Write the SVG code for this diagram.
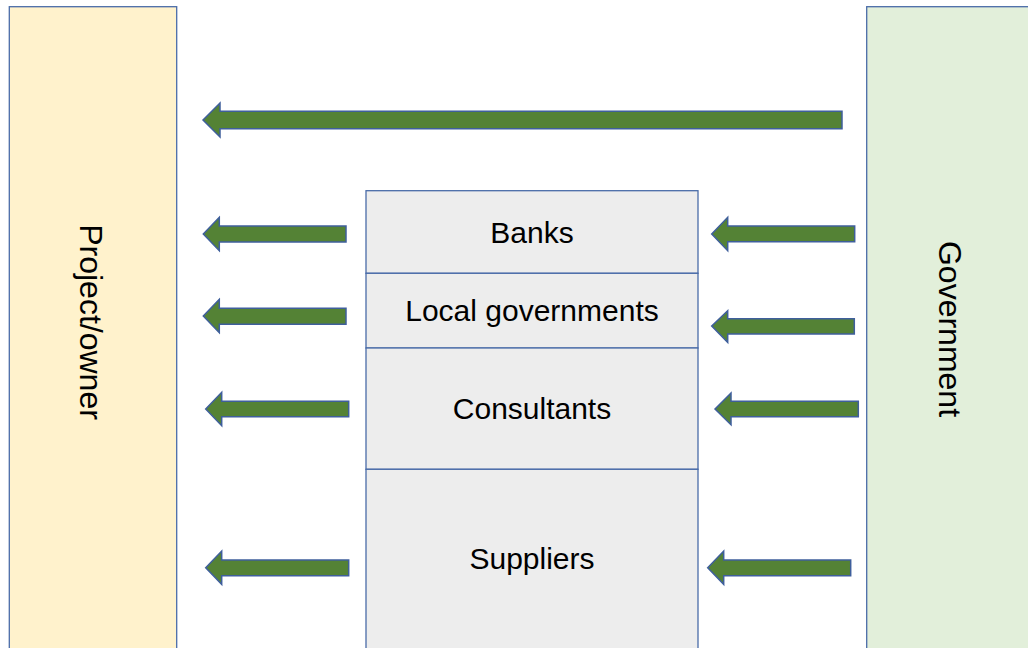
<svg xmlns="http://www.w3.org/2000/svg" width="1028" height="648" viewBox="0 0 1028 648">
  <style>
    .box { stroke: #4A6CA8; stroke-width: 1.3; }
    .owner { fill: #FFF2CC; }
    .gov { fill: #E2EFDA; }
    .cell { fill: #EDEDED; }
    .label { font-family: "Liberation Sans", Arial, sans-serif; font-size: 30px; fill: #000; text-anchor: middle; }
    .vlabel { font-size: 32px; }
    .arrow { fill: #548235; stroke: #3F5F9C; stroke-width: 1.5; stroke-linejoin: miter; }
  </style>
  <rect width="1028" height="648" fill="#FFFFFF"/>

  <g id="project-owner">
    <rect class="box owner" x="9.3" y="6.7" width="167.4" height="660"/>
    <text class="label vlabel" transform="translate(80,322) rotate(90)">Project/owner</text>
  </g>

  <g id="government">
    <rect class="box gov" x="866.7" y="6.7" width="180" height="660"/>
    <text class="label vlabel" transform="translate(939,329) rotate(90)">Government</text>
  </g>

  <g id="banks">
    <rect class="box cell" x="366" y="190.7" width="332" height="82.6"/>
    <text class="label" x="532" y="243.3">Banks</text>
  </g>
  <g id="local-governments">
    <rect class="box cell" x="366" y="273.3" width="332" height="74.7"/>
    <text class="label" x="532" y="320.7">Local governments</text>
  </g>
  <g id="consultants">
    <rect class="box cell" x="366" y="348" width="332" height="121.3"/>
    <text class="label" x="532" y="419.3">Consultants</text>
  </g>
  <g id="suppliers">
    <rect class="box cell" x="366" y="469.3" width="332" height="200"/>
    <text class="label" x="532" y="569.3">Suppliers</text>
  </g>

  <g id="connectors">
    <!-- government to owner, long arrow -->
    <polygon class="arrow" points="203,120 220,103 220,111.3 842,111.3 842,128.7 220,128.7 220,137"/>
    <!-- stakeholders to owner -->
    <polygon class="arrow" points="203.3,234 219.3,217.3 219.3,226 346,226 346,242 219.3,242 219.3,250.7"/>
    <polygon class="arrow" points="203.3,316 219.3,299.3 219.3,308.3 346,308.3 346,324.3 219.3,324.3 219.3,332.7"/>
    <polygon class="arrow" points="205.7,409 221.7,392.3 221.7,401.3 348.7,401.3 348.7,416.7 221.7,416.7 221.7,425.7"/>
    <polygon class="arrow" points="205.7,567.7 221.7,551 221.7,560 348.7,560 348.7,575.7 221.7,575.7 221.7,584.3"/>
    <!-- government to stakeholders -->
    <polygon class="arrow" points="711.7,234 727.7,217.3 727.7,226 854.7,226 854.7,241.7 727.7,241.7 727.7,250.7"/>
    <polygon class="arrow" points="711.7,326 727.7,310.7 727.7,318.7 854.3,318.7 854.3,334 727.7,334 727.7,342.3"/>
    <polygon class="arrow" points="715,409 731,393 731,401.3 858.3,401.3 858.3,416.7 731,416.7 731,424.7"/>
    <polygon class="arrow" points="707.7,567.7 723.7,551 723.7,560 850.7,560 850.7,575.7 723.7,575.7 723.7,584.3"/>
  </g>
</svg>
